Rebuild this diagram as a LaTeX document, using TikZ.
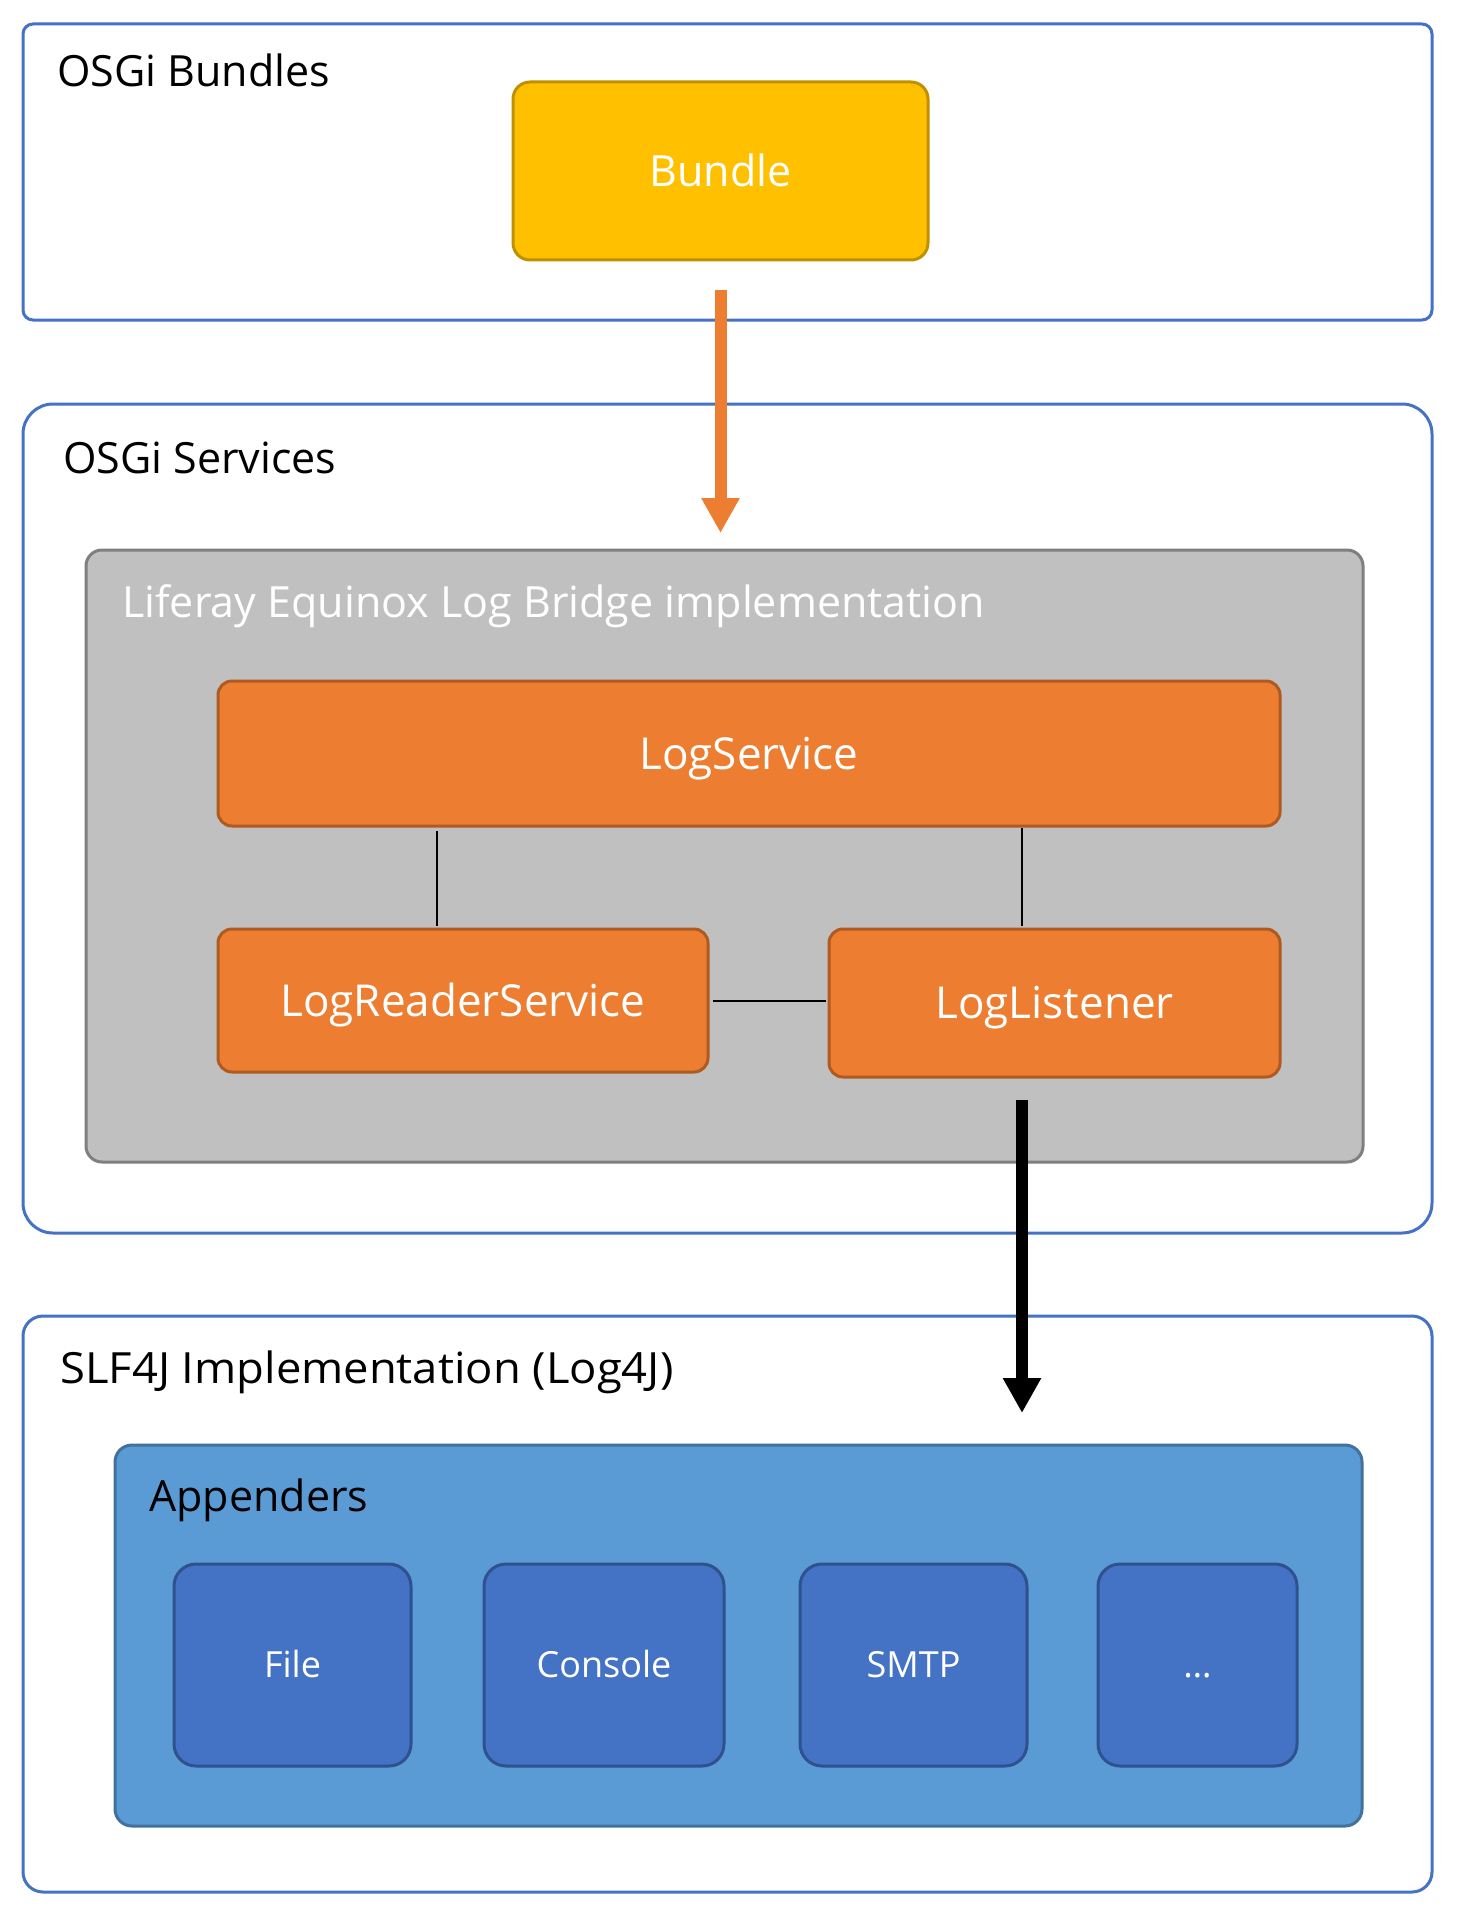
\documentclass[tikz,border=0pt]{standalone}
\usepackage{fontspec}
\setmainfont{Open Sans}
\usetikzlibrary{arrows.meta}
\definecolor{outblue}{HTML}{4472C4}
\definecolor{bundlefill}{HTML}{FFC000}
\definecolor{bundleline}{HTML}{BF9000}
\definecolor{orfill}{HTML}{ED7D31}
\definecolor{orline}{HTML}{AE5A21}
\definecolor{grfill}{HTML}{C0C0C0}
\definecolor{grline}{HTML}{7F7F7F}
\definecolor{apfill}{HTML}{5B9BD5}
\definecolor{apline}{HTML}{41719C}
\definecolor{inline}{HTML}{2F528F}
\tikzset{
  base/.style={inner sep=0pt, outer sep=0pt, line width=3pt, text depth=0pt},
  group/.style={base, draw=outblue, fill=white},
  bundlebox/.style={base, draw=bundleline, fill=bundlefill, rounded corners=17pt, text=white, font=\fontsize{43}{50}\selectfont, text height=30.7pt},
  orbox/.style={base, draw=orline, fill=orfill, rounded corners=14pt, text=white, font=\fontsize{44}{52}\selectfont, text height=31.4pt},
  graybox/.style={base, draw=grline, fill=grfill, rounded corners=16pt},
  apbox/.style={base, draw=apline, fill=apfill, rounded corners=17pt},
  inbox/.style={base, draw=inline, fill=outblue, rounded corners=22pt, text=white, font=\fontsize{36}{42}\selectfont, text height=25.7pt},
  title/.style={anchor=base west, inner sep=0pt, font=\fontsize{43}{50}\selectfont},
  conn/.style={draw=black, line width=1.5pt},
  bigarrow/.style={line width=12pt, -{Triangle[length=35pt,width=36pt]}}
}
\begin{document}
\begin{tikzpicture}[x=1pt,y=-1pt]
\useasboundingbox (0,0) rectangle (1460,1918);
% groups
\node[group, rounded corners=10pt, minimum width=1409pt, minimum height=296pt] (g1) at (727.5,172) {};
\node[group, rounded corners=30pt, minimum width=1409pt, minimum height=829pt] (g2) at (727.5,818.5) {};
\node[group, rounded corners=20pt, minimum width=1409pt, minimum height=576pt] (g3) at (727.5,1604) {};
\node[title] (t1) at (57,87) {OSGi Bundles};
\node[title] (t2) at (63,473) {OSGi Services};
\node[title] (t3) at (60,1383) {\scalebox{1.055}[1]{SLF4J Implementation (Log4J)}};
% bundle
\node[bundlebox, minimum width=415pt, minimum height=178pt] (bundle) at (720.5,171) {Bundle};
% gray
\node[graybox, minimum width=1277pt, minimum height=612pt] (gray) at (724.5,856) {};
\node[title, text=white] (t4) at (122,617) {Liferay Equinox Log Bridge implementation};
\node[orbox, minimum width=1062pt, minimum height=145pt] (ls) at (749,753.5) {LogService};
\node[orbox, minimum width=490pt, minimum height=143pt] (lr) at (463,1000.5) {LogReaderService};
\node[orbox, minimum width=451pt, minimum height=148pt] (ll) at (1054.5,1003) {LogListener};
\coordinate (c1) at (437,0);
\coordinate (c2) at (1022,0);
\draw[conn] (ls.south -| c1) -- (lr.north -| c1) [shorten <=5pt, shorten >=3pt];
\draw[conn] ([yshift=-2pt]ls.south -| c2) -- ([yshift=3pt]ll.north -| c2);
\draw[conn, line width=2pt] (lr.east |- 0,1001) -- (ll.west |- 0,1001) [shorten <=5pt, shorten >=3pt];
% appenders
\node[apbox, minimum width=1247pt, minimum height=381pt] (app) at (738.5,1635.5) {};
\node[title] (t5) at (149,1511) {Appenders};
\node[inbox, minimum width=237pt, minimum height=202pt] (file) at (292.5,1665) {File};
\node[inbox, minimum width=240pt, minimum height=202pt] (console) at (604,1665) {Console};
\node[inbox, minimum width=227pt, minimum height=202pt] (smtp) at (913.5,1665) {SMTP};
\node[inbox, minimum width=199pt, minimum height=202pt] (more) at (1197.5,1665) {…};
% arrows
\draw[bigarrow, draw=orfill, fill=orfill, shorten <=30pt, shorten >=17pt] (bundle.south) -- (bundle.south |- gray.north);
\draw[bigarrow, draw=black, fill=black, shorten <=23pt, shorten >=32pt] (c2 |- ll.south) -- (c2 |- app.north);
\end{tikzpicture}
\end{document}
